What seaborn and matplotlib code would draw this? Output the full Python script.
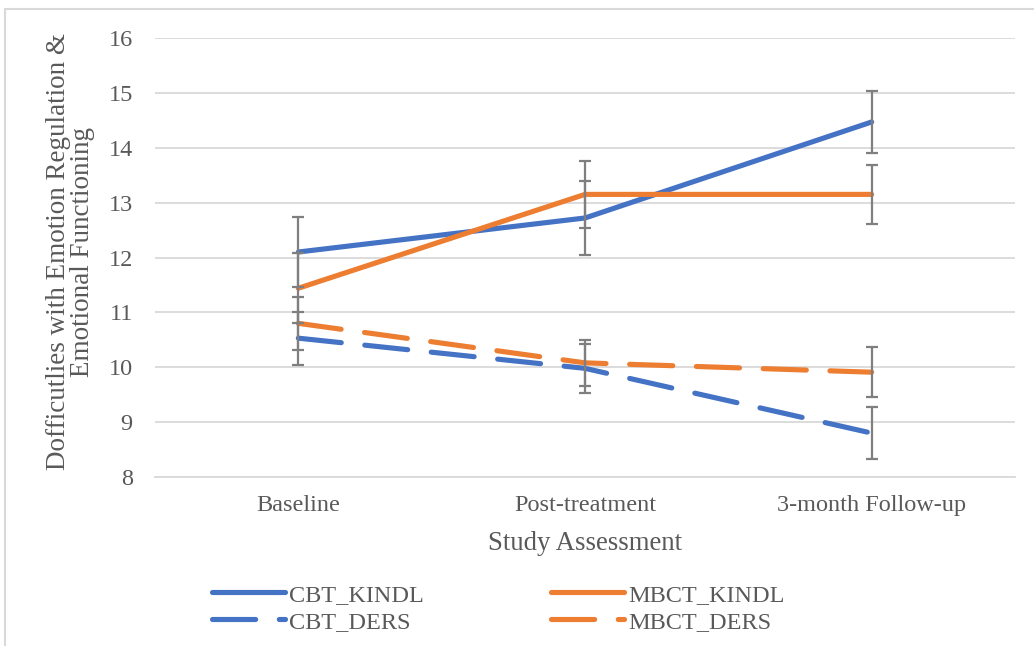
import pandas as pd
import numpy as np
import matplotlib
matplotlib.use("Agg")
import matplotlib.pyplot as plt
from matplotlib.lines import Line2D
import seaborn as sns

# ==========================================
# DATA
# ==========================================
timepoints = ["Baseline", "Post-treatment", "3-month Follow-up"]

cbt_kindl = [12.10, 12.72, 14.47]
mbct_kindl = [11.44, 13.15, 13.15]
cbt_ders = [10.53, 9.98, 8.80]
mbct_ders = [10.80, 10.08, 9.91]

cbt_kindl_err = [0.64, 0.67, 0.57]
mbct_kindl_err = [0.64, 0.61, 0.54]
cbt_ders_err = [0.48, 0.45, 0.48]
mbct_ders_err = [0.48, 0.42, 0.46]

series_names = ["CBT_KINDL", "MBCT_KINDL", "CBT_DERS", "MBCT_DERS"]
series_vals = [cbt_kindl, mbct_kindl, cbt_ders, mbct_ders]
series_errs = [cbt_kindl_err, mbct_kindl_err, cbt_ders_err, mbct_ders_err]

BLUE = "#4472C4"
ORANGE = "#ED7D31"
TEXT = "#595959"
GRID = "#D9D9D9"

palette = {"CBT_KINDL": BLUE, "MBCT_KINDL": ORANGE, "CBT_DERS": BLUE, "MBCT_DERS": ORANGE}
long_dash = (8.4, 4.6)
dashes = {"CBT_KINDL": "", "MBCT_KINDL": "", "CBT_DERS": long_dash, "MBCT_DERS": long_dash}

rows = []
for name, vals in zip(series_names, series_vals):
    for t, v in zip(timepoints, vals):
        rows.append({"Assessment": t, "Score": v, "Series": name})
df = pd.DataFrame(rows)

# ==========================================
# PLOT
# ==========================================
sns.set_style("white")
plt.rcParams["font.family"] = ["Liberation Serif", "DejaVu Serif"]

fig = plt.figure(figsize=(10.34, 6.46), dpi=100)
ax = fig.add_axes([155 / 1034, 1 - 477 / 646, (1015 - 155) / 1034, (477 - 38) / 646])

sns.lineplot(data=df, x="Assessment", y="Score", hue="Series", style="Series",
             palette=palette, dashes=dashes, sort=False, linewidth=3.7,
             ax=ax, legend="full")
for line in ax.get_lines():
    line.set_dash_capstyle("round")
    line.set_solid_capstyle("round")

handles, labels = ax.get_legend_handles_labels()
ax.get_legend().remove()

for name, vals, errs in zip(series_names, series_vals, series_errs):
    ax.errorbar(timepoints, vals, yerr=errs, fmt="none", ecolor="#7F7F7F",
                elinewidth=1.6, capsize=4.5, capthick=1.6, zorder=5)

ax.set_xlim(-0.5, 2.5)
ax.set_ylim(8, 16)
ax.set_yticks(range(8, 17))
ax.yaxis.grid(True, color=GRID, linewidth=1.3)
ax.xaxis.grid(False)
for s in ax.spines.values():
    s.set_visible(False)
ax.spines["bottom"].set_visible(True)
ax.spines["bottom"].set_color(GRID)
ax.spines["bottom"].set_linewidth(1.3)

ax.tick_params(axis="y", length=0, pad=16, labelsize=17.5, labelcolor=TEXT)
ax.tick_params(axis="x", length=0, pad=13, labelsize=17.5, labelcolor=TEXT)

ax.set_xlabel("Study Assessment", fontsize=19.3, color=TEXT)
ax.xaxis.set_label_coords(0.5, -0.122)
ax.set_ylabel("Dofficutlies with Emotion Regulation &\nEmotional Functioning",
              fontsize=19.5, color=TEXT, linespacing=0.95)
ax.yaxis.set_label_coords(-0.070, 0.513)

# legend: two columns, KINDL row on top, DERS row below
lookup = dict(zip(labels, handles))
order = ["CBT_KINDL", "CBT_DERS", "MBCT_KINDL", "MBCT_DERS"]
leg_handles = []
for name in order:
    h = lookup[name]
    lh = Line2D([], [], color=h.get_color(), linewidth=3.7,
                dash_capstyle="round", solid_capstyle="round")
    if name.endswith("DERS"):
        lh.set_dashes(long_dash)
    leg_handles.append(lh)
leg = fig.legend(leg_handles, order, ncol=2, loc="upper left",
                 bbox_to_anchor=(190 / 1034, 1 - 562 / 646), frameon=False,
                 fontsize=17.5, handlelength=3.0, handletextpad=0.17,
                 columnspacing=5.25, labelspacing=0.2)
for t in leg.get_texts():
    t.set_color(TEXT)

# chart-area border (left and top edges visible)
fig.add_artist(Line2D([5 / 1034, 5 / 1034], [0, 1 - 9 / 646], color=GRID, linewidth=1.5))
fig.add_artist(Line2D([5 / 1034, 1], [1 - 9 / 646, 1 - 9 / 646], color=GRID, linewidth=1.5))

fig.savefig("out.png", dpi=100)
plt.close(fig)
